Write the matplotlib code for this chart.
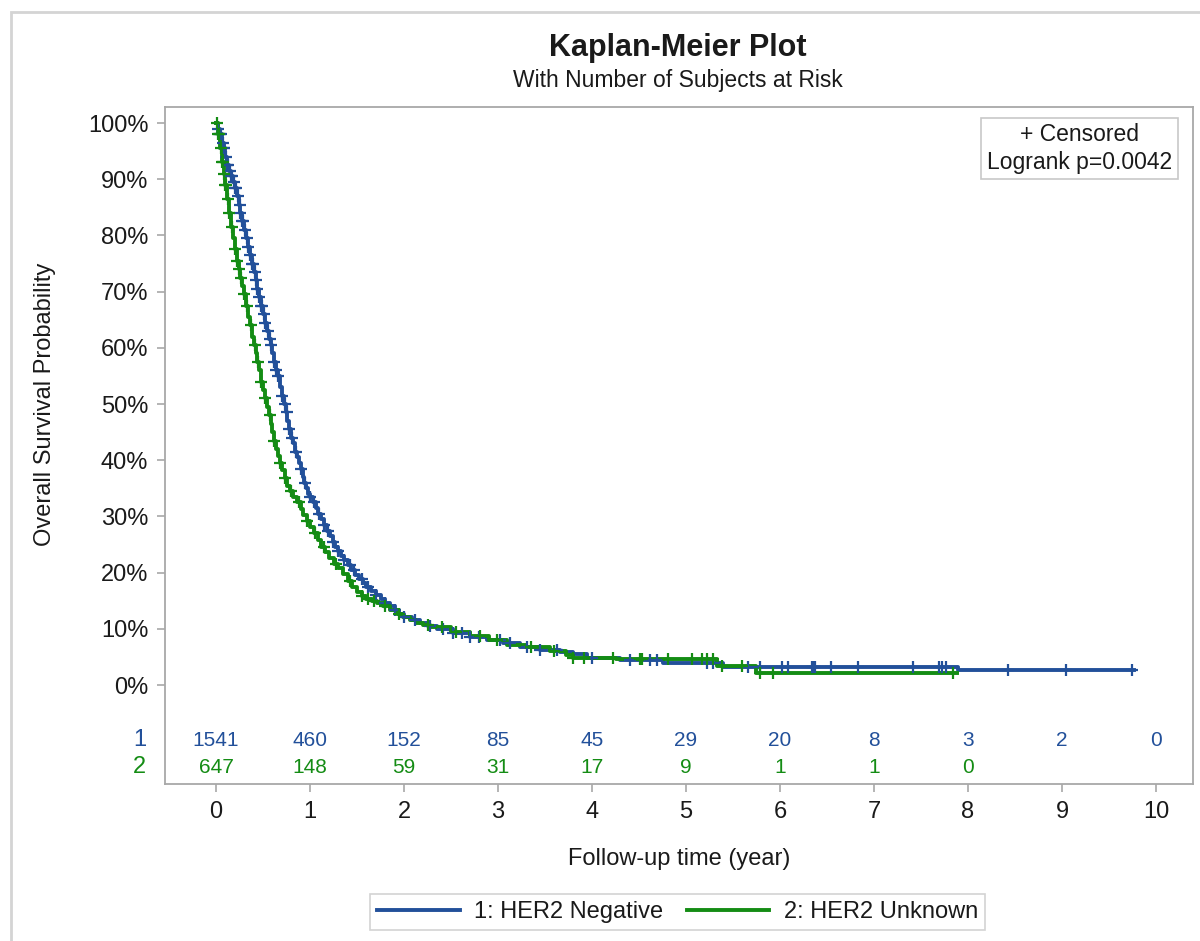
import numpy as np
import matplotlib.pyplot as plt
from matplotlib.patches import Rectangle

plt.rcParams['font.family'] = ['Liberation Sans', 'DejaVu Sans']

# group 1: HER2 Negative (time in years, survival in %)
t1 = [0.00, 0.02, 0.04, 0.06, 0.08, 0.10, 0.12, 0.14, 0.16, 0.18, 0.20, 0.22, 0.24,
      0.26, 0.28, 0.30, 0.32, 0.34, 0.36, 0.38, 0.40, 0.42, 0.44, 0.46, 0.48, 0.50,
      0.52, 0.54, 0.56, 0.58, 0.60, 0.62, 0.64, 0.66, 0.68, 0.70, 0.72, 0.74, 0.76,
      0.78, 0.80, 0.82, 0.84, 0.86, 0.88, 0.90, 0.92, 0.94, 0.96, 0.98, 1.00, 1.03,
      1.06, 1.09, 1.12, 1.15, 1.18, 1.21, 1.24, 1.27, 1.30, 1.33, 1.36, 1.40, 1.44,
      1.48, 1.52, 1.56, 1.60, 1.65, 1.70, 1.75, 1.80, 1.85, 1.90, 1.95, 2.00, 2.08,
      2.17, 2.26, 2.35, 2.52, 2.70, 2.88, 3.05, 3.23, 3.45, 3.66, 3.80, 3.95, 4.30,
      4.75, 5.39, 7.89, 9.77]
s1 = [100, 99, 98, 96.5, 95.5, 94, 92.5, 91.5, 90.5, 89.5, 88.5, 87, 85.5,
      84, 82.5, 81, 79.5, 78, 76.5, 75, 73.5, 72, 70.5, 69, 67.5, 66,
      64.5, 63, 61.5, 60.5, 59, 57.5, 56, 55, 53, 51.5, 50, 48.5, 47,
      45.5, 44, 43, 41.5, 40.5, 39.5, 38.5, 37, 36, 35, 34, 33.5, 32.5,
      31.5, 30.5, 29.5, 28.5, 27.5, 26.5, 25.5, 24.5, 23.8, 23, 22.2, 21.3, 20.4,
      19.6, 18.9, 18.2, 17.5, 16.8, 16, 15.3, 14.6, 14, 13.3, 12.7, 12.2, 11.6,
      11.0, 10.5, 10.0, 9.2, 8.6, 8.0, 7.4, 6.8, 6.2, 5.8, 5.5, 4.9, 4.5,
      4.0, 3.3, 2.7, 2.7]
cens1 = [0.02, 0.04, 0.05, 0.07, 0.08, 0.09, 0.11, 0.12, 0.13, 0.15, 0.16, 0.17,
         0.19, 0.20, 0.21, 0.23, 0.25, 0.26, 0.28, 0.29, 0.31, 0.33, 0.34, 0.36,
         0.38, 0.39, 0.41, 0.43, 0.44, 0.46, 0.48, 0.49, 0.51, 0.52, 0.55, 0.57,
         0.58, 0.62, 0.64, 0.66, 0.70, 0.73, 0.75, 0.78, 0.81, 0.85, 0.90, 0.95,
         1.00, 1.04, 1.10, 1.15, 1.19, 1.24, 1.30, 1.36, 1.42, 1.47, 1.55, 1.62,
         1.70, 1.80, 1.90, 2.00, 2.12, 2.28, 2.41, 2.52, 2.62, 2.70, 2.80, 3.02,
         3.13, 3.31, 3.45, 3.63, 4.00, 4.40, 4.62, 4.69, 5.22, 5.29, 5.66, 5.79,
         6.02, 6.09, 6.34, 6.35, 6.37, 6.54, 6.83, 7.41, 7.69, 7.72, 7.77, 8.43,
         9.04, 9.74]

# group 2: HER2 Unknown
t2 = [0.00, 0.02, 0.04, 0.06, 0.08, 0.10, 0.12, 0.14, 0.16, 0.18, 0.20, 0.22, 0.24,
      0.26, 0.28, 0.30, 0.32, 0.34, 0.36, 0.38, 0.40, 0.42, 0.44, 0.46, 0.48, 0.50,
      0.52, 0.54, 0.56, 0.58, 0.60, 0.62, 0.64, 0.66, 0.68, 0.70, 0.73, 0.76, 0.79,
      0.82, 0.86, 0.90, 0.93, 0.97, 1.00, 1.04, 1.08, 1.12, 1.16, 1.20, 1.25, 1.30,
      1.35, 1.40, 1.45, 1.50, 1.55, 1.60, 1.66, 1.71, 1.78, 1.85, 1.92, 1.99, 2.06,
      2.13, 2.20, 2.28, 2.50, 2.70, 2.90, 3.10, 3.30, 3.55, 3.72, 3.80, 4.25, 5.33,
      5.75, 7.88]
s2 = [100, 98, 95.5, 93, 91, 89, 86.5, 84, 81.5, 79.5, 77.5, 75.5, 74,
      72.5, 71, 69.5, 67.5, 65.5, 64, 62, 60.5, 59, 57.5, 56, 54, 52.5,
      51, 49.5, 48, 46.5, 45, 43.5, 42, 40.8, 39.5, 38.3, 36.8, 35.5, 34.5,
      33.5, 32.5, 31.3, 30.3, 29.2, 28.1, 27, 25.8, 24.6, 23.6, 22.6, 21.6, 20.8,
      19.7, 18.6, 17.5, 16.6, 15.9, 15.4, 15, 14.6, 14, 13.3, 12.7, 12.1, 11.6,
      11.1, 10.7, 10.3, 9.4, 8.7, 8.0, 7.2, 6.7, 6.1, 5.3, 4.9, 4.7, 3.4,
      2.1, 2.1]
cens2 = [0.01, 0.02, 0.03, 0.05, 0.06, 0.07, 0.09, 0.10, 0.11, 0.13, 0.14, 0.17,
         0.20, 0.22, 0.24, 0.27, 0.30, 0.33, 0.37, 0.41, 0.45, 0.48, 0.52, 0.57,
         0.62, 0.68, 0.73, 0.80, 0.88, 0.97, 1.05, 1.15, 1.28, 1.42, 1.55, 1.62,
         1.68, 1.80, 1.95, 2.25, 2.40, 2.55, 2.81, 2.99, 3.35, 3.60, 3.80, 3.91,
         4.22, 4.51, 4.53, 4.81, 5.06, 5.17, 5.22, 5.29, 5.38, 5.60, 5.79, 5.93,
         7.84]

risk_t1 = [0, 1, 2, 3, 4, 5, 6, 7, 8, 9, 10]
risk1 = [1541, 460, 152, 85, 45, 29, 20, 8, 3, 2, 0]
risk_t2 = [0, 1, 2, 3, 4, 5, 6, 7, 8]
risk2 = [647, 148, 59, 31, 17, 9, 1, 1, 0]

labels = ['1: HER2 Negative', '2: HER2 Unknown']
blue = '#22509a'
green = '#148c14'
grey = '#a8a8a8'
txt = '#1a1a1a'


def surv_at(t, s, c):
    idx = np.searchsorted(t, c, side='right') - 1
    return np.array(s)[idx]


fig = plt.figure(figsize=(12, 9.41), dpi=100)
ax = fig.add_axes([165/1200, 1-784/941, 1028/1200, 677/941])

for t, s, c, col, lab in [(t1, s1, cens1, blue, labels[0]), (t2, s2, cens2, green, labels[1])]:
    ax.plot(t, s, drawstyle='steps-post', color=col, lw=2.8, label=lab, zorder=3)
    ax.plot(c, surv_at(t, s, c), ls='none', marker='+', ms=9, mew=1.6, color=col, zorder=4)

ax.set_xlim(-0.543, 10.394)
ax.set_ylim(-17.6, 102.85)
ax.set_xticks(range(0, 11))
ax.set_yticks(range(0, 101, 10))
ax.set_yticklabels([f'{v}%' for v in range(0, 101, 10)])
ax.tick_params(direction='out', length=6, width=1.2, color=grey, labelsize=17,
               labelcolor=txt, pad=6)
for sp in ax.spines.values():
    sp.set_color(grey)
    sp.set_linewidth(1.3)

ax.set_xlabel('Follow-up time (year)', fontsize=17, color=txt, labelpad=18)
ax.set_ylabel('Overall Survival Probability', fontsize=17, color=txt)
ax.yaxis.set_label_coords(-0.106, 0.561)

# number at risk table inside the plot area
for tt, n in zip(risk_t1, risk1):
    ax.text(tt, -9.8, str(n), ha='center', va='center', fontsize=15, color=blue)
for tt, n in zip(risk_t2, risk2):
    ax.text(tt, -14.6, str(n), ha='center', va='center', fontsize=15, color=green)
ax.text(-0.81, -9.8, '1', ha='center', va='center', fontsize=17, color=blue, clip_on=False)
ax.text(-0.81, -14.6, '2', ha='center', va='center', fontsize=17, color=green, clip_on=False)

ax.text(0.8896, 0.976, '+ Censored\nLogrank p=0.0042', transform=ax.transAxes,
        ha='center', va='top', fontsize=16.5, color=txt, linespacing=1.25,
        bbox=dict(boxstyle='square,pad=0.25', fc='white', ec='#c8c8c8', lw=1.2))

fig.text(0.565, 1-48/941, 'Kaplan-Meier Plot', ha='center', va='center',
         fontsize=22, fontweight='bold', color=txt)
fig.text(0.565, 1-80/941, 'With Number of Subjects at Risk', ha='center', va='center',
         fontsize=16.5, color=txt)

leg = fig.legend(loc='center', bbox_to_anchor=(677.5/1200, 1-912/941), ncol=2,
                 fontsize=17, frameon=True, fancybox=False, handlelength=3.5,
                 columnspacing=1.0, handletextpad=0.6, borderpad=0.3,
                 borderaxespad=0)
leg.get_frame().set_edgecolor('#c8c8c8')
leg.get_frame().set_linewidth(1.2)
for t in leg.get_texts():
    t.set_color(txt)

# outer frame of the graph area
fig.patches.append(Rectangle((11/1200, -0.2), 1.2, 1.2 - 12/941, transform=fig.transFigure,
                             fill=False, ec='#d4d4d4', lw=2))

fig.savefig('out.png', dpi=100)
